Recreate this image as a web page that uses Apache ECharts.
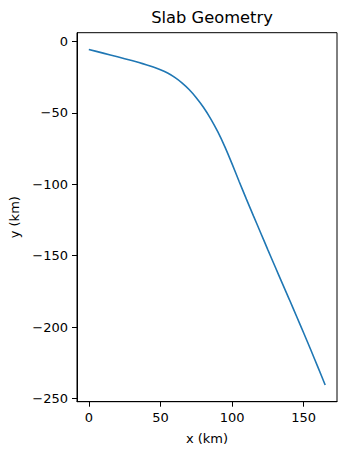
<!DOCTYPE html>
<html>
<head>
<meta charset="utf-8">
<script src="https://cdn.jsdelivr.net/npm/echarts@6/dist/echarts.min.js"></script>
<style>
html,body{margin:0;padding:0;background:#fff;}
#chart{width:346px;height:455px;}
</style>
</head>
<body>
<div id="chart"></div>
<script>
var xValues = [0, 10, 20, 30, 35, 40, 45, 50, 55, 60, 65, 70, 75, 80, 85, 90, 95, 100, 105, 110, 115, 120, 125, 130, 135, 140, 145, 150, 155, 160, 165];
var yValues = [-5.6, -8.2, -10.8, -13.4, -14.8, -16.3, -17.95, -19.85, -22.15, -25.2, -29.0, -33.7, -39.4, -46.1, -54.0, -63.2, -73.8, -85.7, -98.2, -110.4, -122.3, -134.1, -145.9, -157.6, -169.2, -180.7, -192.4, -204.1, -216.0, -228.2, -240.5];
var xTicks = [0, 50, 100, 150];
var yTicks = [0, -50, -100, -150, -200, -250];
var titleText = 'Slab Geometry';
var xLabel = 'x (km)';
var yLabel = 'y (km)';

var data = xValues.map(function (x, i) { return [x, yValues[i]]; });
var fmt = function (v) { return v < 0 ? '\u2212' + Math.abs(v) : String(v); };
var font = 'DejaVu Sans';

var chart = echarts.init(document.getElementById('chart'), null, {renderer: 'svg'});
chart.setOption({
  animation: false,
  backgroundColor: '#fff',
  title: {
    text: titleText,
    left: 207,
    top: 4,
    textAlign: 'center',
    textStyle: {fontFamily: font, fontSize: 16.3, fontWeight: 'normal', color: '#000'}
  },
  grid: {
    left: 77, right: 9, top: 32.7, bottom: 53.3,
    show: true, borderColor: '#000', borderWidth: 1, containLabel: false
  },
  xAxis: {
    type: 'value',
    min: -8.25, max: 173.25,
    name: xLabel, nameLocation: 'middle', nameGap: 30,
    nameTextStyle: {fontFamily: font, fontSize: 13, color: '#000'},
    splitLine: {show: false},
    axisLine: {show: true, onZero: false, lineStyle: {color: '#000', width: 1}},
    axisTick: {show: true, inside: false, length: 5, lineStyle: {color: '#000'}, customValues: xTicks},
    axisLabel: {fontFamily: font, fontSize: 13, color: '#000', margin: 9, formatter: fmt, customValues: xTicks}
  },
  yAxis: {
    type: 'value',
    min: -252.2, max: 6.1,
    name: yLabel, nameLocation: 'middle', nameGap: 55, nameRotate: 90,
    nameTextStyle: {fontFamily: font, fontSize: 13, color: '#000'},
    splitLine: {show: false},
    axisLine: {show: true, onZero: false, lineStyle: {color: '#000', width: 1}},
    axisTick: {show: true, inside: false, length: 5, lineStyle: {color: '#000'}, customValues: yTicks},
    axisLabel: {fontFamily: font, fontSize: 13, color: '#000', margin: 9, formatter: fmt, customValues: yTicks}
  },
  series: [{
    type: 'line',
    data: data,
    showSymbol: false,
    smooth: 0.2,
    lineStyle: {color: '#1f77b4', width: 1.6},
    clip: true
  }]
});
</script>
</body>
</html>
